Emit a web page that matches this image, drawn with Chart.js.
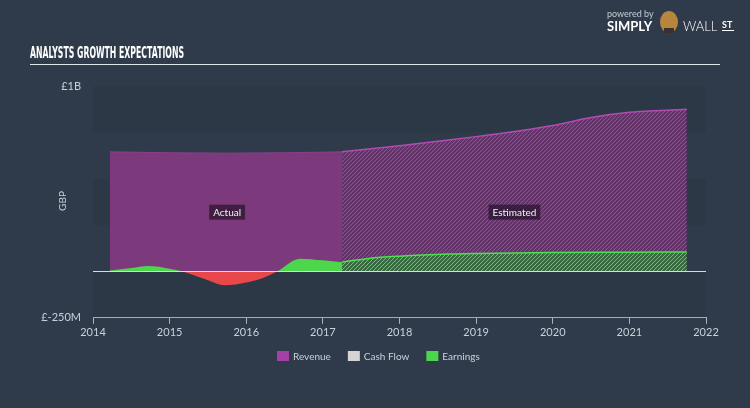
<!DOCTYPE html>
<html>
<head>
    <title>Analysts Growth Expectations</title>
    <script src="https://cdn.jsdelivr.net/npm/chart.js"></script>
    <style>
        html, body { margin: 0; padding: 0; background: #2f3b4a; }
        #wrap { width: 750px; height: 408px; position: relative; }
    </style>
</head>
<body>
    <div id="wrap"><canvas id="chart"></canvas></div>

    <script>
        // Data (x = year, values in GBP)
        const revenueActualX = [2014.22, 2015.0, 2015.75, 2016.5, 2017.25];
        const revenueActual  = [645e6, 640e6, 638e6, 640e6, 645e6];
        const revenueEstX    = [2017.25, 2018.0, 2018.5, 2019.0, 2019.5, 2020.0, 2020.5, 2021.0, 2021.4, 2021.75];
        const revenueEst     = [645e6, 678e6, 702e6, 727e6, 755e6, 787e6, 830e6, 858e6, 868e6, 874e6];
        const earningsActualX = [2014.22, 2014.5, 2014.72, 2015.0, 2015.17, 2015.45, 2015.72, 2016.0, 2016.2, 2016.4, 2016.7, 2017.0, 2017.25];
        const earningsActual  = [5e6, 18e6, 29e6, 15e6, 0, -40e6, -75e6, -60e6, -38e6, 0, 69e6, 60e6, 50e6];
        const earningsEstX   = [2017.25, 2017.6, 2018.0, 2018.66, 2019.0, 2020.0, 2021.0, 2021.75];
        const earningsEst    = [50e6, 70e6, 82e6, 94e6, 97e6, 102e6, 104e6, 105e6];
        const legendLabels = ['Revenue', 'Cash Flow', 'Earnings'];
        const legendColors = ['#a53ea5', '#d4d4d4', '#4cd44c'];
        const yTicks = [-250e6, 0, 1e9];

        const pts = (xs, ys) => xs.map((x, i) => ({ x: x, y: ys[i] }));

        // diagonal hatch for the estimated part
        function hatch(bg, fg) {
            const c = document.createElement('canvas');
            c.width = 4; c.height = 4;
            const g = c.getContext('2d');
            g.fillStyle = bg;
            g.fillRect(0, 0, 4, 4);
            g.strokeStyle = fg;
            g.lineWidth = 1;
            g.beginPath();
            g.moveTo(0, 4); g.lineTo(4, 0);
            g.moveTo(-1, 1); g.lineTo(1, -1);
            g.moveTo(3, 5); g.lineTo(5, 3);
            g.stroke();
            return g.createPattern(c, 'repeat');
        }

        const FONT = 'Lato, "Noto Sans", sans-serif';
        const TXT = '#c9d1d9';

        // background bands, zero line, labels, legend, title and logo
        const decor = {
            id: 'decor',
            beforeDatasetsDraw(chart) {
                const { ctx, chartArea: a, scales: { y } } = chart;
                ctx.save();
                ctx.fillStyle = 'rgba(0,0,0,0.05)';
                [[1e9, 750e6], [500e6, 250e6], [0, -250e6]].forEach(([t, b]) => {
                    ctx.fillRect(a.left, y.getPixelForValue(t), a.right - a.left, y.getPixelForValue(b) - y.getPixelForValue(t));
                });
                ctx.restore();
            },
            afterDatasetsDraw(chart) {
                const { ctx, chartArea: a, scales: { x, y } } = chart;
                ctx.save();
                // zero line
                const y0 = Math.round(y.getPixelForValue(0)) + 0.5;
                ctx.strokeStyle = '#d5dbe1';
                ctx.lineWidth = 1;
                ctx.beginPath();
                ctx.moveTo(a.left, y0); ctx.lineTo(a.right, y0);
                ctx.stroke();

                // Actual / Estimated tags
                ctx.font = '10px ' + FONT;
                ctx.textAlign = 'center';
                ctx.textBaseline = 'middle';
                [['Actual', 2015.75], ['Estimated', 2019.5]].forEach(([t, xv]) => {
                    const cx = x.getPixelForValue(xv), cy = y.getPixelForValue(317e6);
                    const w = ctx.measureText(t).width + 8;
                    ctx.fillStyle = 'rgba(30,15,35,0.65)';
                    ctx.fillRect(cx - w / 2, cy - 8, w, 15);
                    ctx.fillStyle = '#f2f2f2';
                    ctx.fillText(t, cx, cy);
                });

                // GBP axis title
                ctx.save();
                ctx.translate(63, 201);
                ctx.rotate(-Math.PI / 2);
                ctx.fillStyle = TXT;
                ctx.font = '10px ' + FONT;
                ctx.fillText('GBP', 0, 0);
                ctx.restore();

                // legend
                ctx.textAlign = 'left';
                ctx.font = '10px ' + FONT;
                let lx = 277;
                legendLabels.forEach((t, i) => {
                    ctx.fillStyle = legendColors[i];
                    ctx.fillRect(lx, 351, 12, 10);
                    ctx.fillStyle = TXT;
                    ctx.fillText(t, lx + 16, 356.5);
                    lx += 16 + ctx.measureText(t).width + 17;
                });

                // title, squeezed to the condensed look
                ctx.textBaseline = 'alphabetic';
                ctx.fillStyle = '#ffffff';
                ctx.font = 'bold 15px "DejaVu Sans", sans-serif';
                const tw = ctx.measureText('ANALYSTS GROWTH EXPECTATIONS').width;
                ctx.save();
                ctx.translate(30, 58);
                ctx.scale(154 / tw, 1);
                ctx.fillText('ANALYSTS GROWTH EXPECTATIONS', 0, 0);
                ctx.restore();
                ctx.strokeStyle = '#dfe5ec';
                ctx.beginPath();
                ctx.moveTo(30, 64.5); ctx.lineTo(720, 64.5);
                ctx.stroke();

                // logo
                ctx.fillStyle = '#c4ccd4';
                ctx.font = '9px ' + FONT;
                ctx.fillText('powered by', 607, 17);
                ctx.fillStyle = '#ffffff';
                ctx.font = 'bold 13px ' + FONT;
                ctx.fillText('SIMPLY', 607, 31);
                ctx.fillStyle = '#b7863c';
                ctx.beginPath();
                ctx.ellipse(669, 22, 9, 11, 0, 0, Math.PI * 2);
                ctx.fill();
                ctx.fillStyle = '#3a3030';
                ctx.fillRect(664, 28, 10, 5);
                ctx.fillStyle = '#ffffff';
                ctx.font = '300 13px ' + FONT;
                ctx.fillText('WALL', 683, 31);
                ctx.font = 'bold 9px ' + FONT;
                ctx.fillText('ST', 722, 28);
                ctx.fillRect(722, 30, 12, 1);
                ctx.restore();
            }
        };

        const chart = new Chart(document.getElementById('chart'), {
            type: 'line',
            data: {
                datasets: [
                    {
                        label: 'Earnings', order: 0,
                        data: pts(earningsActualX, earningsActual),
                        borderWidth: 0, pointRadius: 0, tension: 0.4, cubicInterpolationMode: 'monotone',
                        fill: { target: 'origin', above: '#4cd64c', below: '#e8484a' }
                    },
                    {
                        label: 'Earnings est', order: 0,
                        data: pts(earningsEstX, earningsEst),
                        borderColor: '#4ee04e', borderWidth: 1.5, pointRadius: 0, tension: 0.4, cubicInterpolationMode: 'monotone',
                        fill: 'origin', backgroundColor: hatch('#356b3f', '#5ccf5c')
                    },
                    {
                        label: 'Revenue', order: 1,
                        data: pts(revenueActualX, revenueActual),
                        borderColor: '#8a3f8b', borderWidth: 1, pointRadius: 0, tension: 0.4, cubicInterpolationMode: 'monotone',
                        fill: 'origin', backgroundColor: '#7c3a7d'
                    },
                    {
                        label: 'Revenue est', order: 1,
                        data: pts(revenueEstX, revenueEst),
                        borderColor: '#b24bb2', borderWidth: 1.5, pointRadius: 0, tension: 0.4, cubicInterpolationMode: 'monotone',
                        fill: 'origin', backgroundColor: hatch('#63336a', '#93509a')
                    },
                    { label: 'Cash Flow', order: 2, data: [], pointRadius: 0 }
                ]
            },
            options: {
                responsive: true,
                maintainAspectRatio: false,
                animation: false,
                layout: { padding: { top: 86, right: 44, bottom: 67, left: 0 } },
                scales: {
                    x: {
                        type: 'linear', min: 2014, max: 2022,
                        ticks: { stepSize: 1, color: TXT, font: { family: FONT, size: 11 }, padding: 2, callback: v => String(v) },
                        grid: { drawOnChartArea: false, color: '#aab5c0', tickLength: 6 },
                        border: { color: '#aab5c0' }
                    },
                    y: {
                        min: -250e6, max: 1e9,
                        afterBuildTicks: s => { s.ticks = yTicks.map(v => ({ value: v })); },
                        afterFit: s => { s.width = 93; },
                        ticks: {
                            color: TXT, font: { family: FONT, size: 11 }, padding: 4,
                            callback: v => v === 1e9 ? '£1B' : v === -250e6 ? '£-250M' : ''
                        },
                        grid: { display: false },
                        border: { display: false }
                    }
                },
                plugins: {
                    tooltip: { enabled: false },
                    legend: { display: false }
                }
            },
            plugins: [decor]
        });
    </script>
</body>
</html>
